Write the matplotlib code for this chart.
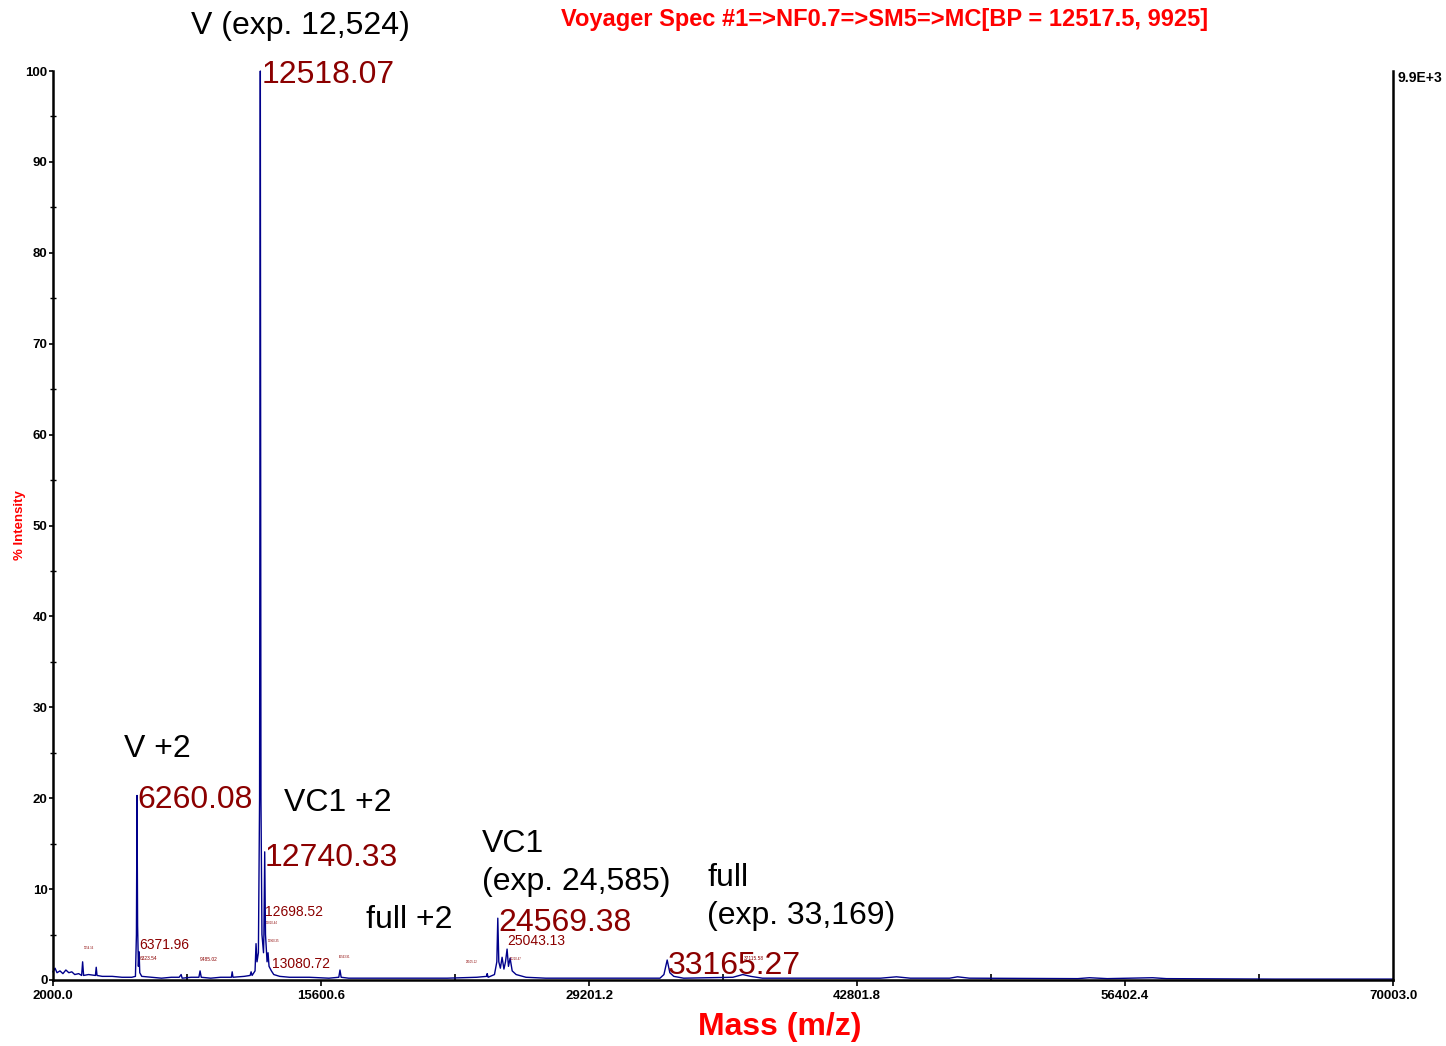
import matplotlib
matplotlib.use("Agg")
import matplotlib.pyplot as plt

plt.rcParams['font.family'] = ['Liberation Sans', 'DejaVu Sans']

# spectrum trace (mass, % intensity)
mass = [2000, 2100, 2200, 2350, 2500, 2650, 2800, 2950, 3100, 3300, 3450, 3500, 3550,
        3800, 4150, 4190, 4230, 4500, 5000, 5500, 6000, 6180, 6230, 6260, 6290, 6330,
        6365, 6400, 6500, 7000, 7500, 8000, 8400, 8500, 8550, 9000, 9400, 9460, 9520,
        10000, 10500, 11050, 11090, 11130, 11700, 12000, 12050, 12100, 12250, 12300,
        12350, 12420, 12480, 12518, 12550, 12600, 12680, 12700, 12740, 12780, 12860,
        12910, 12960, 13080, 13200, 13500, 14000, 15000, 16000, 16500, 16560, 16620,
        17000, 18000, 20000, 22000, 23500, 24000, 24030, 24080, 24400, 24520, 24569,
        24620, 24700, 24787, 24880, 24960, 25040, 25110, 25193, 25300, 25500, 26000,
        27000, 30000, 32800, 33000, 33165, 33300, 33500, 34000, 36500, 37000, 37400,
        38000, 44000, 44800, 45500, 47500, 47900, 48500, 54000, 54600, 55500, 57800,
        58500, 64000, 70003]
inten = [0.9, 1.3, 0.8, 1.0, 0.7, 1.1, 0.8, 0.9, 0.6, 0.7, 0.5, 2.0, 0.5,
         0.6, 0.5, 1.4, 0.5, 0.4, 0.4, 0.3, 0.3, 0.4, 5.0, 20.3, 6.0, 1.5,
         3.1, 0.8, 0.4, 0.3, 0.2, 0.3, 0.3, 0.6, 0.2, 0.3, 0.3, 1.0, 0.3,
         0.2, 0.3, 0.3, 0.9, 0.3, 0.4, 0.5, 0.9, 0.5, 1.0, 4.0,
         2.0, 3.0, 20.0, 100.0, 20.0, 5.0, 3.0, 5.0, 14.1, 5.0, 2.0,
         3.0, 1.5, 1.0, 0.6, 0.4, 0.3, 0.3, 0.2, 0.3, 1.1, 0.3,
         0.2, 0.2, 0.2, 0.2, 0.3, 0.4, 0.7, 0.3, 0.6, 2.0, 6.8,
         2.0, 1.3, 2.5, 1.2, 2.0, 3.4, 1.5, 2.4, 1.0, 0.6, 0.3,
         0.2, 0.2, 0.2, 0.6, 2.2, 0.8, 0.4, 0.2, 0.3, 0.6, 0.4,
         0.2, 0.2, 0.35, 0.2, 0.2, 0.35, 0.2, 0.15, 0.25, 0.15, 0.25,
         0.15, 0.1, 0.1]

# peak labels: (text, mass, intensity, size)
peak_labels = [("12518.07", 12570, 99.6, 23), ("6260.08", 6263, 19.8, 23),
               ("12740.33", 12759, 13.4, 23), ("24569.38", 24584, 6.3, 23),
               ("33165.27", 33211, 1.55, 23), ("12698.52", 12759, 7.5, 10),
               ("6371.96", 6365, 3.85, 10), ("13080.72", 13114, 1.75, 10),
               ("25043.13", 25040, 4.3, 10), ("6323.54", 6415, 2.4, 3.5),
               ("9485.02", 9460, 2.2, 3.5), ("37115.58", 37050, 2.4, 3.5),
               ("3554.16", 3550, 3.5, 2), ("12810.44", 12780, 6.3, 2),
               ("12960.35", 12900, 4.3, 2), ("16563.91", 16520, 2.5, 2),
               ("23105.12", 22950, 2.0, 2), ("25210.47", 25200, 2.3, 2)]

# species annotations: (text, mass, intensity, alignment)
notes = [("V (exp. 12,524)", 14535, 105.0, 'center'), ("V +2", 7278, 25.4, 'center'),
         ("VC1 +2", 13723, 19.5, 'left'), ("full +2", 17885, 6.6, 'left'),
         ("VC1", 23772, 15.0, 'left'), ("(exp. 24,585)", 23772, 10.8, 'left'),
         ("full", 35190, 11.2, 'left'), ("(exp. 33,169)", 35190, 7.0, 'left')]

xticks = [2000.0, 15600.6, 29201.2, 42801.8, 56402.4, 70003.0]

fig = plt.figure(figsize=(14.46, 10.46), dpi=100)
ax = fig.add_axes([0.0367, 0.0631, 0.9267, 0.869])

ax.plot(mass, inten, color='#00008B', lw=1.0, clip_on=False)

for txt, x, y, fs in peak_labels:
    ax.text(x, y, txt, color='#8B0000', fontsize=fs, va='center', ha='left', clip_on=False)
for txt, x, y, ha in notes:
    ax.text(x, y, txt, color='black', fontsize=23, va='center', ha=ha, clip_on=False)

ax.set_xlim(2000, 70003)
ax.set_ylim(0, 100)
ax.set_xticks(xticks)
ax.set_xticklabels([f"{v:.1f}" for v in xticks], fontsize=9.5, fontweight='bold')
ax.set_xticks([(a + b) / 2 for a, b in zip(xticks[:-1], xticks[1:])], minor=True)
ax.set_yticks(range(0, 101, 10))
ax.set_yticklabels([str(v) for v in range(0, 101, 10)], fontsize=9.5, fontweight='bold')
ax.set_yticks(range(5, 100, 10), minor=True)
ax.tick_params(axis='x', which='major', direction='out', length=4, width=1.2, pad=3)
ax.tick_params(axis='x', which='minor', direction='in', length=4, width=1.2)
ax.tick_params(axis='y', which='major', direction='out', length=3, width=1.2, pad=1)
ax.tick_params(axis='y', which='minor', direction='inout', length=5, width=1.0)

ax.spines['top'].set_visible(False)
for s in ['left', 'bottom', 'right']:
    ax.spines[s].set_linewidth(1.8)

fig.text(0.612, 0.981, "Voyager Spec #1=>NF0.7=>SM5=>MC[BP = 12517.5, 9925]",
         color='red', fontsize=17, fontweight='bold', ha='center', va='center')
fig.text(0.539, 0.018, "Mass (m/z)", color='red', fontsize=23, fontweight='bold',
         ha='center', va='center')
fig.text(0.0138, 0.498, "% Intensity", color='red', fontsize=9.5, fontweight='bold',
         rotation=90, ha='center', va='center')
fig.text(0.9668, 0.9254, "9.9E+3", color='black', fontsize=10, fontweight='bold',
         ha='left', va='center')

fig.savefig("out.png", dpi=100)
